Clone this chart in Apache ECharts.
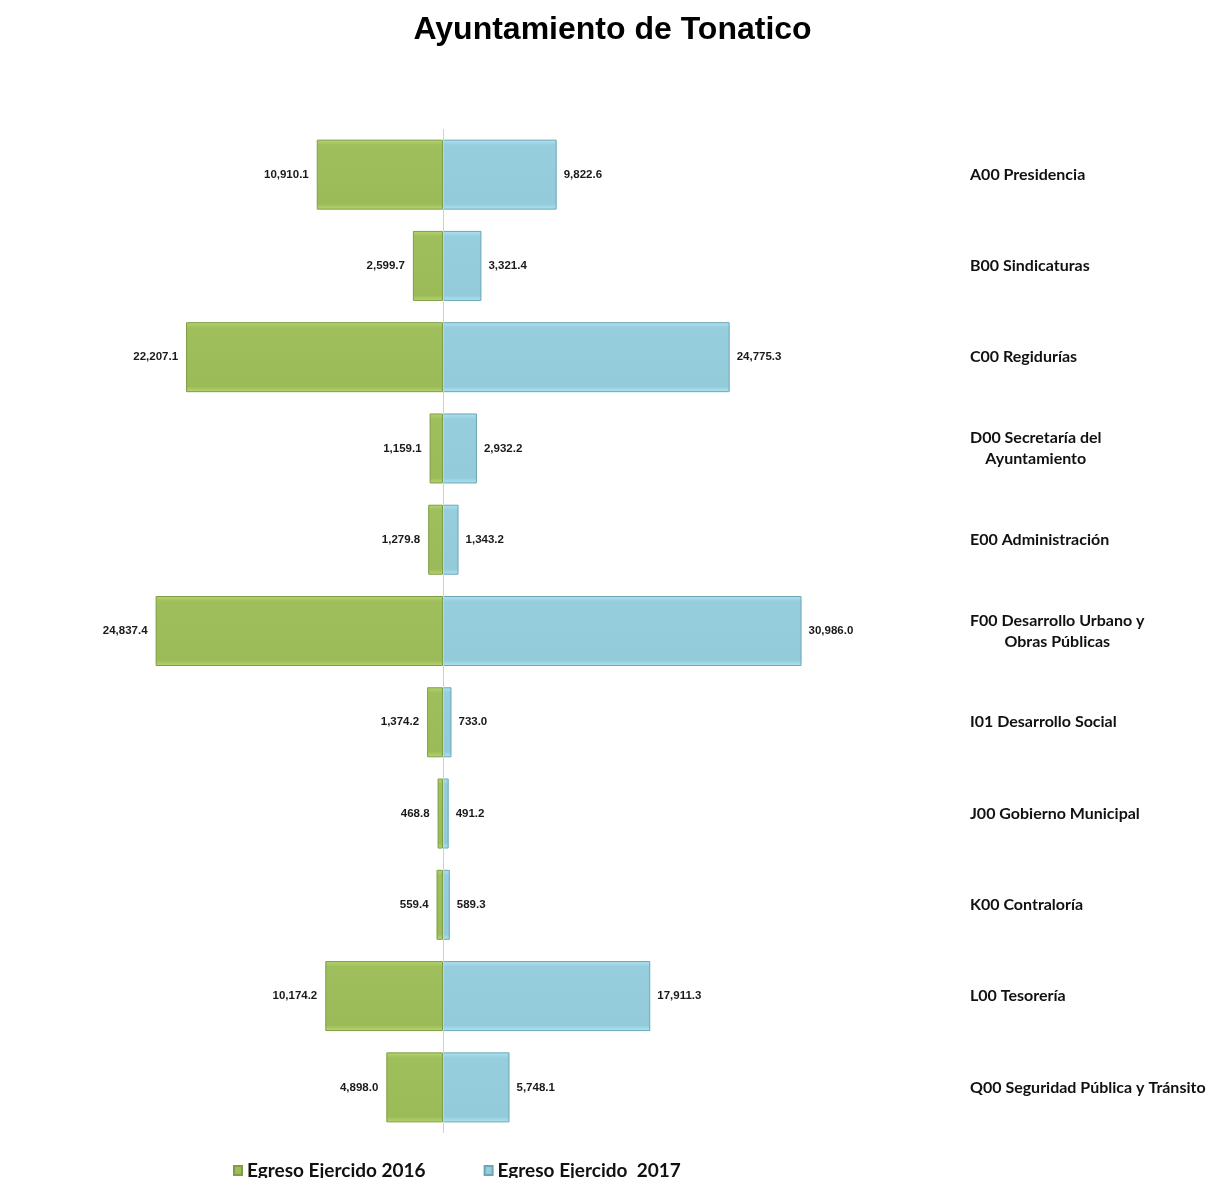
<!DOCTYPE html>
<html>
<head>
<meta charset="utf-8">
<script src="https://cdn.jsdelivr.net/npm/echarts@6/dist/echarts.min.js"></script>
<style>html,body{margin:0;padding:0;background:#fff}#c{width:1225px;height:1178px}</style>
</head>
<body>
<div id="c"></div>
<script>
var categories = ['A00 Presidencia','B00 Sindicaturas','C00 Regidurías','D00 Secretaría del\nAyuntamiento','E00 Administración','F00 Desarrollo Urbano y\nObras Públicas','I01 Desarrollo Social','J00 Gobierno Municipal','K00 Contraloría','L00 Tesorería','Q00 Seguridad Pública y Tránsito'];
var egreso2016 = [10910.1, 2599.7, 22207.1, 1159.1, 1279.8, 24837.4, 1374.2, 468.8, 559.4, 10174.2, 4898.0];
var egreso2017 = [9822.6, 3321.4, 24775.3, 2932.2, 1343.2, 30986.0, 733.0, 491.2, 589.3, 17911.3, 5748.1];
var seriesNames = ['Egreso Ejercido 2016', 'Egreso Ejercido  2017'];

function fmt(v){
  v = Math.abs(v);
  return v.toFixed(1).replace(/\B(?=(\d{3})+(?!\d))/g, ',');
}
var chart = echarts.init(document.getElementById('c'));
var labelFont = {fontFamily:'Liberation Sans', fontWeight:'bold', fontSize:11.5, color:'#1a1a1a'};
chart.setOption({
  backgroundColor:'#ffffff',
  animation:false,
  title:{text:'Ayuntamiento de Tonatico', left:'center', top:9,
    textStyle:{fontFamily:'Liberation Sans', fontWeight:'bold', fontSize:32, color:'#000'}},
  legend:{left:228, top:1156, itemWidth:8, itemHeight:9, itemGap:58,
    icon:'rect',
    textStyle:{fontFamily:'Lato', fontWeight:'bold', fontSize:19, color:'#111'},
    data:seriesNames},
  grid:{left:38, right:377, top:129, bottom:45, containLabel:false},
  xAxis:{type:'value', min:-35000, max:35000, show:false},
  yAxis:{type:'category', data:categories, inverse:true, position:'right',
    axisLine:{show:false}, axisTick:{show:false}, splitLine:{show:false},
    axisLabel:{margin:122, align:'left', fontFamily:'Lato', fontWeight:'bold', fontSize:16, color:'#111', lineHeight:21,
      formatter:function(v){
        var p = v.split('\n');
        if(p.length===1) return '{a|'+p[0]+'}';
        return '{a|'+p[0]+'}\n{b|'+p[1]+'}';
      },
      rich:{a:{fontFamily:'Lato', fontWeight:'bold', fontSize:16, color:'#111', lineHeight:21},
            b:{fontFamily:'Lato', fontWeight:'bold', fontSize:16, color:'#111', lineHeight:21, align:'center'}}
    }},
  series:[
    {name:seriesNames[0], type:'bar', barWidth:70, barGap:'-100%',
      data:egreso2016.map(function(v){return -v;}),
      itemStyle:{color:{type:'linear',x:0,y:0,x2:0,y2:1,colorStops:[{offset:0,color:'#b6d56c'},{offset:0.08,color:'#9fbf5c'},{offset:0.92,color:'#9bbb58'},{offset:1,color:'#b9d870'}]},
        borderColor:'#7f9d44', borderWidth:1},
      label:Object.assign({show:true, position:'left', distance:8, formatter:function(p){return fmt(p.value);}}, labelFont),
      markLine:{silent:true, symbol:'none', label:{show:false}, lineStyle:{color:'#d0d0d0', width:1, type:'solid'}, data:[{xAxis:0}]}
    },
    {name:seriesNames[1], type:'bar', barWidth:70,
      data:egreso2017,
      itemStyle:{color:{type:'linear',x:0,y:0,x2:0,y2:1,colorStops:[{offset:0,color:'#aee3f1'},{offset:0.08,color:'#96cede'},{offset:0.92,color:'#93cbdb'},{offset:1,color:'#b0e6f4'}]},
        borderColor:'#6aa6b5', borderWidth:1},
      label:Object.assign({show:true, position:'right', distance:7, formatter:function(p){return fmt(p.value);}}, labelFont)
    }
  ],
  color:['#9bbb59','#93cddd']
});
</script>
</body>
</html>
